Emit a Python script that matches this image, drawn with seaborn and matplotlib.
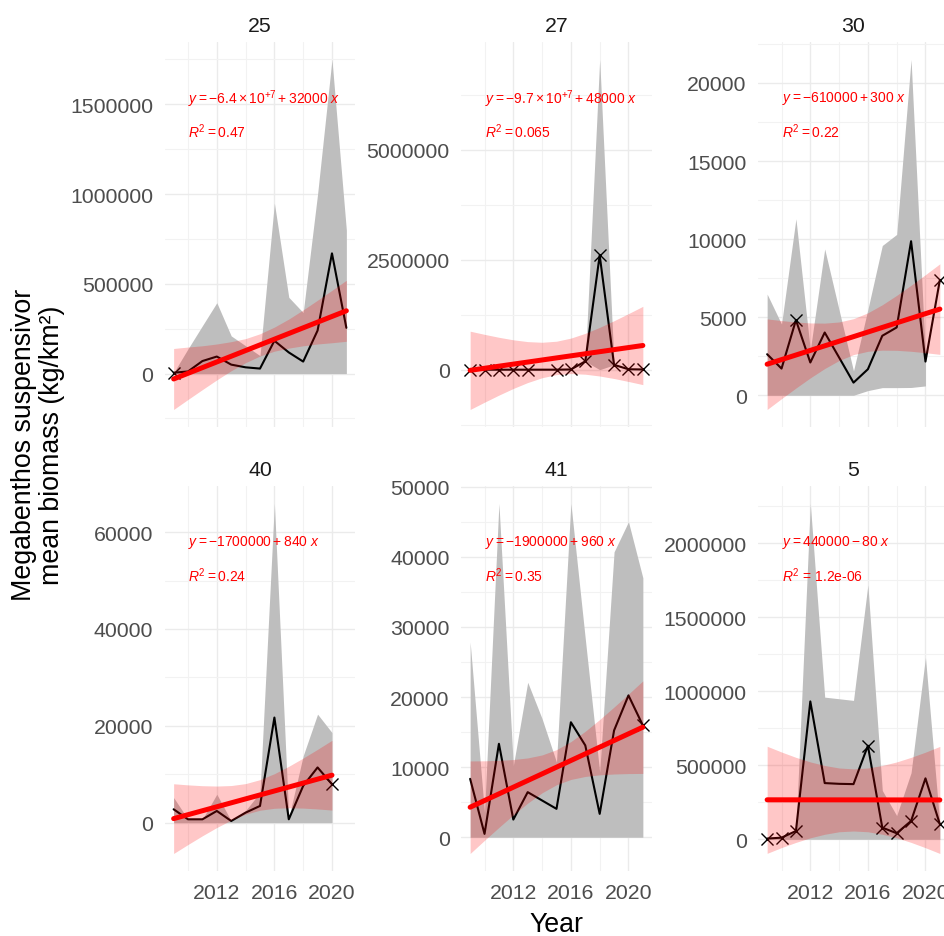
import numpy as np
import pandas as pd
import matplotlib
matplotlib.use("Agg")
import matplotlib.pyplot as plt
import matplotlib.transforms as mtrans
from matplotlib.ticker import MultipleLocator, FuncFormatter
import seaborn as sns

# ---------------- data ----------------
years = [2009, 2010, 2011, 2012, 2013, 2014, 2015, 2016, 2017, 2018, 2019, 2020, 2021]
years_40 = [2009, 2010, 2011, 2012, 2013, 2014, 2015, 2016, 2017, 2018, 2019, 2020]

panel_names = ["25", "27", "30", "40", "41", "5"]

# station 25
mean_25 = [5000, 12000, 70000, 95000, 50000, 35000, 28000, 183000, 118000, 67000, 240000, 670000, 255000]
upper_25 = [5000, 138000, 267000, 395000, 210000, 155000, 100000, 950000, 425000, 340000, 1000000, 1750000, 800000]
lower_25 = [0, 0, 0, 0, 0, 0, 0, 0, 0, 0, 0, 0, 0]
mark_25 = [1, 0, 0, 0, 0, 0, 0, 0, 0, 0, 0, 0, 0]
fit_25 = [-30000, 350000]
ci_lo_25 = [-200000, -144000, -89000, -35000, 16000, 61000, 98000, 125000, 142000, 155000, 165000, 172000, 180000]
ci_hi_25 = [140000, 148000, 155000, 165000, 178000, 195000, 222000, 259000, 304000, 355000, 409000, 464000, 520000]
eq_25 = r"$y = -6.4\times10^{+7} + 32000\ x$"
r2_25 = r"$R^2 = 0.47$"

# station 27
mean_27 = [0, 0, 0, 0, 0, 0, 0, 5000, 190000, 2600000, 110000, 10000, 5000]
upper_27 = [0, 0, 0, 0, 0, 0, 0, 5000, 190000, 7050000, 110000, 10000, 5000]
lower_27 = [0, 0, 0, 0, 0, 0, 0, 5000, 190000, 0, 110000, 10000, 5000]
mark_27 = [1, 1, 1, 1, 1, 0, 1, 1, 1, 1, 1, 1, 1]
fit_27 = [-15000, 550000]
ci_lo_27 = [-905000, -739000, -578000, -427000, -292000, -183000, -112000, -88000, -103000, -144000, -201000, -268000, -340000]
ci_hi_27 = [875000, 803000, 736000, 679000, 638000, 623000, 647000, 718000, 827000, 962000, 1113000, 1274000, 1440000]
eq_27 = r"$y = -9.7\times10^{+7} + 48000\ x$"
r2_27 = r"$R^2 = 0.065$"

# station 30
mean_30 = [2630, 1710, 4815, 2100, 4020, 2420, 810, 1670, 3810, 4345, 9865, 2160, 7380]
upper_30 = [6480, 4560, 11300, 2900, 9370, 5460, 1560, 5500, 9590, 10300, 21500, 2500, np.nan]
lower_30 = [0, 0, 0, 0, 0, 0, 0, 300, 490, 490, 500, 600, np.nan]
mark_30 = [0, 0, 1, 0, 0, 0, 0, 0, 0, 0, 0, 0, 1]
fit_30 = [1990, 5520]
ci_lo_30 = [-910, -215, 463, 1114, 1714, 2228, 2605, 2816, 2890, 2879, 2817, 2727, 2620]
ci_hi_30 = [4890, 4783, 4693, 4632, 4620, 4694, 4905, 5282, 5796, 6397, 7047, 7725, 8420]
eq_30 = r"$y = -610000 + 300\ x$"
r2_30 = r"$R^2 = 0.22$"

# station 40
mean_40 = [2760, 690, 690, 2415, 345, 2070, 3450, 21700, 690, 7590, 11400, 7935]
upper_40 = [5175, 690, 690, 5865, 345, 2500, 6210, 65900, 1000, 13800, 22400, 18600]
lower_40 = [0, 0, 0, 0, 0, 0, 0, 0, 0, 0, 0, 0]
mark_40 = [0, 0, 0, 0, 0, 0, 0, 0, 0, 0, 0, 1]
fit_40 = [830, 9800]
ci_lo_40 = [-6370, -4510, -2708, -1005, 521, 1752, 2567, 2967, 3072, 3002, 2830, 2600]
ci_hi_40 = [8030, 7800, 7628, 7559, 7663, 8064, 8879, 10109, 11636, 13338, 15140, 17000]
eq_40 = r"$y = -1700000 + 840\ x$"
r2_40 = r"$R^2 = 0.24$"

# station 41
mean_41 = [8330, 476, 13330, 2520, 6430, 5240, 4050, 16400, 13100, 3330, 15230, 20230, 15950]
upper_41 = [27850, 3500, 47600, 10200, 22100, 16900, 10700, 47600, 28300, 9300, 40700, 45000, 37000]
lower_41 = [0, 0, 0, 0, 0, 0, 0, 0, 0, 0, 0, 0, 0]
mark_41 = [0, 0, 0, 0, 0, 0, 0, 0, 0, 0, 0, 0, 1]
fit_41 = [4280, 15700]
ci_lo_41 = [-2320, -438, 1405, 3189, 4863, 6339, 7490, 8243, 8669, 8899, 9019, 9078, 9100]
ci_hi_41 = [10880, 10902, 10961, 11081, 11311, 11737, 12490, 13641, 15117, 16791, 18575, 20418, 22300]
eq_41 = r"$y = -1900000 + 960\ x$"
r2_41 = r"$R^2 = 0.35$"

# station 5
mean_5 = [5000, 11000, 56000, 932000, 380000, 375000, 373000, 633000, 79000, 41000, 124000, 412000, 102000]
upper_5 = [5000, 11000, 56000, 2270000, 961000, 950000, 939000, 1720000, 330000, 160000, 450000, 1230000, 102000]
lower_5 = [0, 0, 0, 0, 0, 0, 0, 0, 0, 0, 0, 0, 0]
mark_5 = [1, 1, 1, 0, 0, 0, 0, 1, 1, 1, 1, 0, 1]
fit_5 = [267000, 266000]
ci_lo_5 = [-95000, -56000, -21000, 10000, 34000, 51000, 56000, 51000, 34000, 10000, -21000, -57000, -96000]
ci_hi_5 = [629000, 590000, 554000, 523000, 499000, 482000, 476000, 482000, 499000, 523000, 554000, 589000, 628000]
eq_5 = r"$y = 440000 - 80\ x$"
r2_5 = r"$R^2$ = 1.2e-06"

x_major = [2012, 2016, 2020]
x_minor = [2010, 2014, 2018]
y_steps = [500000, 2500000, 5000, 20000, 10000, 500000]

panels = [
    (years, mean_25, upper_25, lower_25, mark_25, fit_25, ci_lo_25, ci_hi_25, eq_25, r2_25),
    (years, mean_27, upper_27, lower_27, mark_27, fit_27, ci_lo_27, ci_hi_27, eq_27, r2_27),
    (years, mean_30, upper_30, lower_30, mark_30, fit_30, ci_lo_30, ci_hi_30, eq_30, r2_30),
    (years_40, mean_40, upper_40, lower_40, mark_40, fit_40, ci_lo_40, ci_hi_40, eq_40, r2_40),
    (years, mean_41, upper_41, lower_41, mark_41, fit_41, ci_lo_41, ci_hi_41, eq_41, r2_41),
    (years, mean_5, upper_5, lower_5, mark_5, fit_5, ci_lo_5, ci_hi_5, eq_5, r2_5),
]

# ---------------- style ----------------
sns.set_style("white")
plt.rcParams['font.family'] = ['Liberation Sans', 'DejaVu Sans']
plt.rcParams['mathtext.fontset'] = 'custom'
plt.rcParams['mathtext.rm'] = 'Liberation Sans'
plt.rcParams['mathtext.it'] = 'Liberation Sans:italic'
plt.rcParams['mathtext.bf'] = 'Liberation Sans:bold'
plt.rcParams['axes.unicode_minus'] = True

W, H = 945, 937
fig = plt.figure(figsize=(W / 100, H / 100), dpi=100)

col_left = [165, 461.5, 758.5]
row_top = [43, 487]
pw, ph = 190, 385

grey_fill = "#BEBEBE"
tick_col = "#4D4D4D"
tick_fs = 15.3

for i, (name, pdat, step) in enumerate(zip(panel_names, panels, y_steps)):
    r, c = divmod(i, 3)
    ax = fig.add_axes([col_left[c] / W, 1 - (row_top[r] + ph) / H, pw / W, ph / H])
    yrs, mean, upper, lower, mark, fit, ci_lo, ci_hi, eq, r2 = pdat
    df = pd.DataFrame({"Year": yrs, "mean": mean, "upper": upper, "lower": lower,
                       "mark": mark, "ci_lo": ci_lo, "ci_hi": ci_hi})

    ax.fill_between(df["Year"], df["lower"], df["upper"], color=grey_fill, lw=0, zorder=1)
    sns.lineplot(data=df, x="Year", y="mean", color="black", lw=1.5, ax=ax, zorder=3)
    dm = df[df["mark"] == 1]
    sns.scatterplot(data=dm, x="Year", y="mean", marker="x", color="black", s=75,
                    linewidth=1.0, ax=ax, zorder=4)
    ax.fill_between(df["Year"], df["ci_lo"], df["ci_hi"], color="red", alpha=0.22, lw=0, zorder=5)
    fdf = pd.DataFrame({"Year": [yrs[0], yrs[-1]], "fit": fit})
    sns.lineplot(data=fdf, x="Year", y="fit", color="red", lw=3.6, ax=ax, zorder=6)

    ax.set_xlim(2008.4, 2021.6)
    ax.set_xticks(x_major)
    ax.set_xticks(x_minor, minor=True)
    ax.yaxis.set_major_locator(MultipleLocator(step))
    ax.yaxis.set_minor_locator(MultipleLocator(step / 2))
    ax.yaxis.set_major_formatter(FuncFormatter(lambda v, p: f"{v:.0f}"))
    ax.grid(which="major", color="#EBEBEB", lw=1.0, zorder=0)
    ax.grid(which="minor", color="#F2F2F2", lw=0.8, zorder=0)
    ax.set_axisbelow(True)
    for s in ax.spines.values():
        s.set_visible(False)
    ax.tick_params(which="both", length=0, labelsize=tick_fs, labelcolor=tick_col, pad=8.5)
    if r == 0:
        ax.tick_params(axis="x", labelbottom=False)
    ax.set_xlabel("")
    ax.set_ylabel("")
    ax.set_title(name, fontsize=tick_fs, color="#1A1A1A", pad=8)

    tr = mtrans.blended_transform_factory(ax.transData, ax.transAxes)
    ax.text(2010, 0.855, eq, transform=tr, color="red", fontsize=10, ha="left", va="center", zorder=7)
    ax.text(2010, 0.77, r2, transform=tr, color="red", fontsize=10, ha="left", va="center", zorder=7)

fig.text(556 / W, 1 - 925 / H, "Year", fontsize=19.3, ha="center", va="center", color="black")
fig.text(38 / W, 1 - 445 / H, "Megabenthos suspensivor\nmean biomass (kg/km²)", rotation=90,
         fontsize=19.3, ha="center", va="center", multialignment="center", color="black",
         linespacing=1.1)

fig.savefig("out.png", dpi=100)
